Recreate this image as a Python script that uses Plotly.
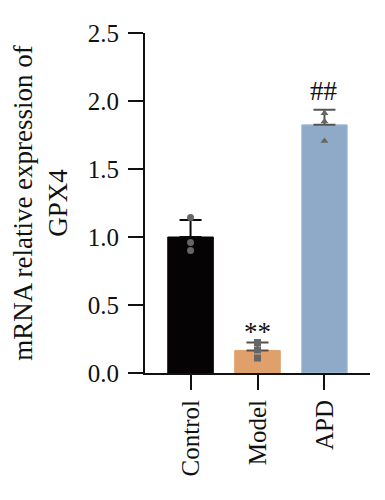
import plotly.graph_objects as go

categories = ["Control", "Model", "APD"]
means = [1.0, 0.165, 1.825]
err_up = [0.125, 0.06, 0.11]
points_control = [1.144, 0.96, 0.90]
points_model = [0.224, 0.17, 0.11]
points_apd = [1.91, 1.85, 1.705]
bar_colors = ["#060304", "#E0A06C", "#8EAAC8"]
bar_line_colors = ["#060304", "#E0A06C", "#A9C0D8"]
err_colors = ["#0a0a0a", "#5a4e46", "#555555"]
point_symbols = ["circle", "square", "triangle-up"]
sig_labels = ["", "**", "##"]
sig_y = [None, 0.30, 2.075]
y_ticks = [0.0, 0.5, 1.0, 1.5, 2.0, 2.5]

FONT = "Liberation Serif"

fig = go.Figure()
for i, c in enumerate(categories):
    fig.add_trace(go.Bar(
        x=[c], y=[means[i]], width=0.68,
        marker=dict(color=bar_colors[i], line=dict(color=bar_line_colors[i], width=1)),
        error_y=dict(type="data", symmetric=False, array=[err_up[i]], arrayminus=[0],
                     color=err_colors[i], thickness=2, width=11),
        showlegend=False,
    ))

for c, pts, sym in zip(categories, [points_control, points_model, points_apd], point_symbols):
    fig.add_trace(go.Scatter(
        x=[c] * len(pts), y=pts, mode="markers",
        marker=dict(symbol=sym, size=7, color="#666666"),
        showlegend=False,
    ))

for c, lab, yv in zip(categories, sig_labels, sig_y):
    if lab:
        fig.add_annotation(x=c, y=yv, text=lab, showarrow=False, yanchor="middle",
                           font=dict(family=FONT, size=27, color="#111111"))

fig.update_layout(
    width=385, height=500,
    margin=dict(l=134, r=23, t=16, b=135),
    plot_bgcolor="white", paper_bgcolor="white",
    font=dict(family=FONT, size=25, color="#111111"),
)
fig.update_xaxes(
    type="category", range=[-0.68, 2.68],
    showline=True, linecolor="#111111", linewidth=2,
    ticks="outside", ticklen=15, tickwidth=2, tickcolor="#111111",
    tickangle=-90, tickfont=dict(family=FONT, size=25),
    showgrid=False,
)
fig.update_yaxes(
    range=[0, 2.5], tickvals=y_ticks, ticktext=[f"{v:.1f}" for v in y_ticks],
    showline=True, linecolor="#111111", linewidth=2,
    ticks="outside", ticklen=15, tickwidth=2, tickcolor="#111111",
    tickfont=dict(family=FONT, size=25), ticklabelstandoff=4,
    showgrid=False, zeroline=False,
    title=dict(text="mRNA relative expression of<br>GPX4", font=dict(family=FONT, size=27), standoff=14),
)

fig.write_html("out.html")
